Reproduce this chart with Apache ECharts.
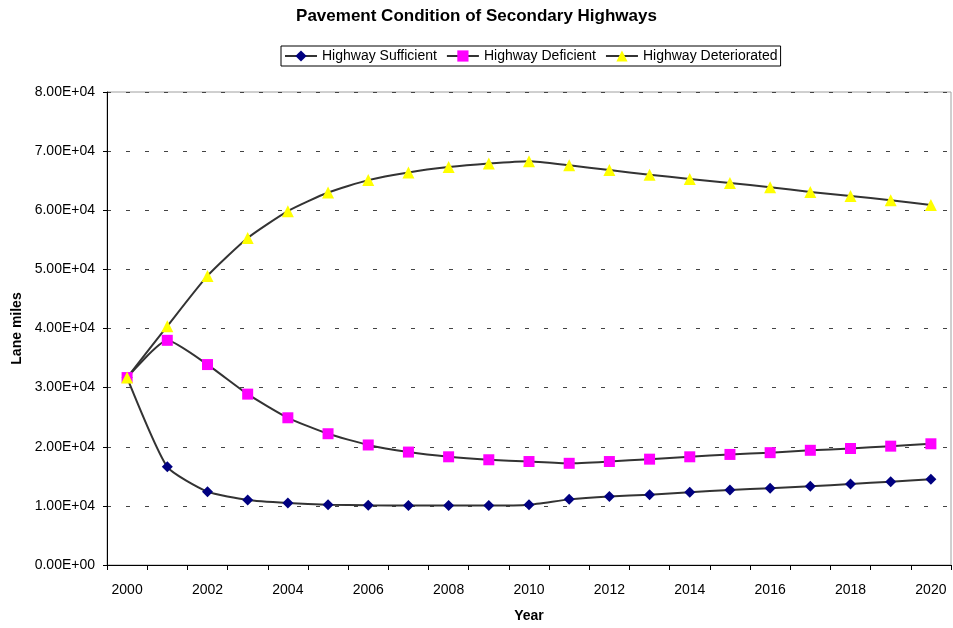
<!DOCTYPE html>
<html>
<head>
<meta charset="utf-8">
<script src="https://cdn.jsdelivr.net/npm/echarts@6/dist/echarts.min.js"></script>
<style>
  html, body { margin: 0; padding: 0; background: #ffffff; }
  #chart { width: 953px; height: 628px; }
</style>
</head>
<body>
<div id="chart"></div>
<script>
// Years on the category axis
const years = ['2000','2001','2002','2003','2004','2005','2006','2007','2008','2009','2010',
               '2011','2012','2013','2014','2015','2016','2017','2018','2019','2020'];

// Lane miles by pavement condition
const sufficient = [31700, 16600, 12400, 11000, 10500, 10200, 10100, 10050, 10050, 10050, 10200,
                    11100, 11600, 11900, 12300, 12700, 13000, 13300, 13700, 14100, 14500];
const deficient = [31700, 38000, 33900, 28900, 24900, 22200, 20300, 19100, 18300, 17800, 17500,
                   17200, 17500, 17900, 18300, 18700, 19000, 19400, 19700, 20100, 20500];
const deteriorated = [31700, 40400, 48900, 55300, 59850, 63000, 65100, 66400, 67300, 67900, 68300,
                      67600, 66800, 66000, 65300, 64600, 63900, 63100, 62400, 61700, 60900];

// Value-axis tick labels, one per 10,000 lane miles
const yTickLabels = ['0.00E+00','1.00E+04','2.00E+04','3.00E+04','4.00E+04',
                     '5.00E+04','6.00E+04','7.00E+04','8.00E+04'];

const FONT = '"Liberation Sans", Arial, sans-serif';
const LINE = '#333333';

const chart = echarts.init(document.getElementById('chart'), null, { renderer: 'canvas' });

function lineSeries(name, data, symbol, color, size) {
  return {
    name: name,
    type: 'line',
    data: data,
    smooth: 0.18,
    symbol: symbol,
    symbolSize: size,
    showAllSymbol: true,
    lineStyle: { color: LINE, width: 2 },
    itemStyle: { color: color, borderWidth: 0 },
    emphasis: { disabled: true },
    animation: false
  };
}

chart.setOption({
  animation: false,
  backgroundColor: '#ffffff',
  title: {
    text: 'Pavement Condition of Secondary Highways',
    left: 'center',
    top: 3,
    textStyle: { fontFamily: FONT, fontSize: 17, fontWeight: 'bold', color: '#000' }
  },
  legend: {
    left: 281,
    top: 46,
    padding: [3, 3, 3, 3],
    itemGap: 9,
    itemWidth: 32,
    itemHeight: 14,
    borderColor: '#000',
    borderWidth: 1,
    textStyle: { fontFamily: FONT, fontSize: 14, color: '#000' },
    data: ['Highway Sufficient', 'Highway Deficient', 'Highway Deteriorated']
  },
  grid: {
    left: 107,
    right: 2,
    top: 92,
    bottom: 62,
    show: true,
    borderColor: '#a0a0a0',
    borderWidth: 1
  },
  xAxis: {
    type: 'category',
    data: years,
    boundaryGap: true,
    name: 'Year',
    nameLocation: 'middle',
    nameGap: 44,
    nameTextStyle: { fontFamily: FONT, fontSize: 14, fontWeight: 'bold', color: '#000' },
    axisLine: { lineStyle: { color: '#000', width: 1 } },
    axisTick: { show: true, interval: 0, length: 5, lineStyle: { color: '#000' } },
    axisLabel: { interval: 1, margin: 18, fontFamily: FONT, fontSize: 14, color: '#000' },
    splitLine: { show: false }
  },
  yAxis: {
    type: 'value',
    min: 0,
    max: 80000,
    interval: 10000,
    name: 'Lane miles',
    nameLocation: 'middle',
    nameGap: 82,
    nameTextStyle: { fontFamily: FONT, fontSize: 14, fontWeight: 'bold', color: '#000' },
    axisLine: { show: true, lineStyle: { color: '#000', width: 1 } },
    axisTick: { show: true, length: 4, lineStyle: { color: '#000' } },
    axisLabel: {
      margin: 12,
      fontFamily: FONT, fontSize: 14, color: '#000',
      formatter: function (v) { return yTickLabels[Math.round(v / 10000)]; }
    },
    splitLine: {
      show: true,
      lineStyle: { color: '#444', width: 1, type: [4, 15], dashOffset: 0 }
    }
  },
  series: [
    lineSeries('Highway Sufficient', sufficient, 'diamond', '#000080', 11),
    lineSeries('Highway Deficient', deficient, 'rect', '#ff00ff', 11),
    lineSeries('Highway Deteriorated', deteriorated, 'triangle', '#ffff00', 12)
  ]
});
</script>
</body>
</html>
